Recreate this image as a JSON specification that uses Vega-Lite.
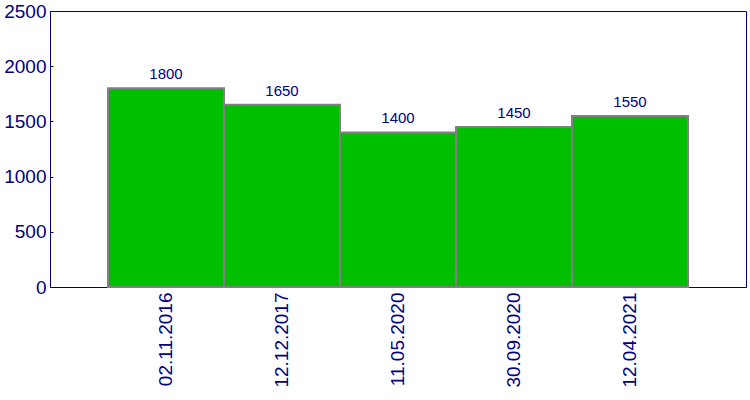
{
  "$schema": "https://vega.github.io/schema/vega-lite/v6.json",
  "autosize": {"type": "none"},
  "width": 696,
  "height": 276,
  "padding": {"left": 50, "top": 11, "right": 4, "bottom": 113},
  "config": {
    "view": {"stroke": "#000080", "strokeWidth": 1},
    "font": "Liberation Sans"
  },
  "data": {
    "values": [
      {"date": "02.11.2016", "value": 1800},
      {"date": "12.12.2017", "value": 1650},
      {"date": "11.05.2020", "value": 1400},
      {"date": "30.09.2020", "value": 1450},
      {"date": "12.04.2021", "value": 1550}
    ]
  },
  "encoding": {
    "x": {
      "field": "date",
      "type": "nominal",
      "sort": null,
      "scale": {"paddingInner": 0, "paddingOuter": 0.5},
      "axis": {
        "title": null,
        "labelAngle": -90,
        "labelAlign": "right",
        "labelBaseline": "middle",
        "labelFontSize": 19,
        "labelColor": "#000080",
        "labelPadding": 5,
        "ticks": false,
        "domainColor": "#000080"
      }
    },
    "y": {
      "field": "value",
      "type": "quantitative",
      "scale": {"domain": [0, 2500], "nice": false},
      "axis": {
        "title": null,
        "values": [0, 500, 1000, 1500, 2000, 2500],
        "format": "d",
        "labelFontSize": 19,
        "labelColor": "#000080",
        "tickColor": "#000080",
        "tickSize": -3,
        "labelPadding": 7,
        "domainColor": "#000080",
        "grid": false
      }
    }
  },
  "layer": [
    {
      "mark": {"type": "bar", "fill": "#00BF00", "stroke": "#808080", "strokeWidth": 2}
    },
    {
      "mark": {"type": "text", "baseline": "bottom", "dy": -6, "fontSize": 15, "fill": "#000080"},
      "encoding": {"text": {"field": "value", "type": "quantitative"}}
    }
  ]
}
